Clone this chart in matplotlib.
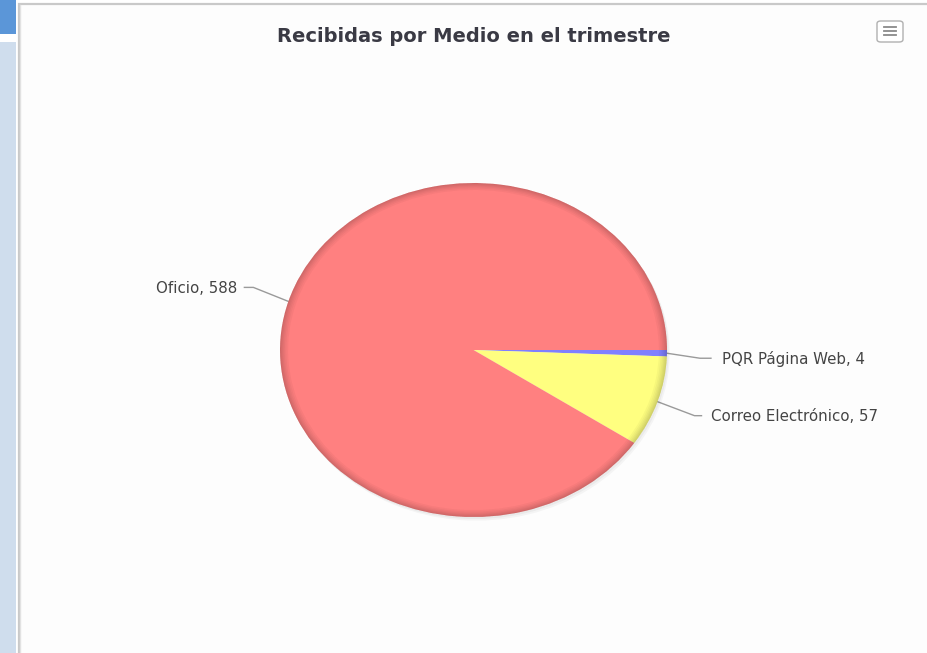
import matplotlib
matplotlib.use("Agg")
import matplotlib.pyplot as plt
from matplotlib.patches import Rectangle, FancyBboxPatch
from matplotlib.lines import Line2D
import numpy as np

# ---- data ----
title = "Recibidas por Medio en el trimestre"
categories = ["PQR Página Web", "Correo Electrónico", "Oficio"]
values = [4, 57, 588]
colors = ["#8080ff", "#ffff80", "#ff8080"]

W, H = 928, 653
fig = plt.figure(figsize=(W / 100, H / 100), dpi=100)
fig.patch.set_facecolor("white")

def fx(x):
    return x / W

def fy(y):
    return 1 - y / H

# left sidebar
fig.add_artist(Rectangle((0, fy(34)), fx(16), 34 / H, transform=fig.transFigure,
                         facecolor="#5b96d8", edgecolor="none", zorder=-5))
fig.add_artist(Rectangle((0, 0), fx(16), fy(42), transform=fig.transFigure,
                         facecolor="#cfdded", edgecolor="none", zorder=-5))
# chart container
fig.add_artist(Rectangle((fx(18.5), -0.01), fx(W + 5 - 18.5), fy(3.5) + 0.01,
                         transform=fig.transFigure, facecolor="#fdfdfd",
                         edgecolor="#c9c9c9", linewidth=1.6, zorder=-5))
fig.add_artist(Line2D([fx(20.5), fx(20.5)], [0, fy(5)], transform=fig.transFigure,
                      color="#e2e2e2", linewidth=1, zorder=-4))

# title
fig.text(fx(474), fy(37), title, ha="center", va="center", fontsize=14,
         fontweight="bold", color="#3a3a44", family="DejaVu Sans")

# menu button
fig.add_artist(FancyBboxPatch((fx(877), fy(42)), fx(26), 21 / H,
                              boxstyle="round,pad=0,rounding_size=0.004",
                              transform=fig.transFigure, facecolor="white",
                              edgecolor="#b0b0b0", linewidth=1))
for yy in (27, 31, 35):
    fig.add_artist(Line2D([fx(884), fx(896)], [fy(yy), fy(yy)], transform=fig.transFigure,
                          color="#8a8a8a", linewidth=1.3))

# pie axes (ellipse in screenshot)
left, right, top, bottom = 280, 667, 183, 517
ax = fig.add_axes([fx(left), fy(bottom), (right - left) / W, (bottom - top) / H])
ax.set_zorder(2)
ax.set_facecolor("none")

# faint outer shadow
for off, a in [((0.014, -0.022), 0.035), ((0.008, -0.012), 0.04)]:
    ax.pie(values, colors=["#000000"] * 3, startangle=0, counterclock=False,
           radius=1.0, center=off, wedgeprops=dict(linewidth=0, alpha=a))
wedges, _ = ax.pie(values, colors=colors, startangle=0, counterclock=False,
                   radius=1.0, wedgeprops=dict(linewidth=0))
# soft rim darkening
for wd in [0.006, 0.012, 0.018, 0.025, 0.033, 0.042]:
    ax.pie(values, colors=["#000000"] * 3, startangle=0, counterclock=False,
           radius=1.0, wedgeprops=dict(width=wd, linewidth=0, alpha=0.03))
ax.set_aspect("auto")
ax.set_xlim(-1, 1)
ax.set_ylim(-1, 1)
ax.axis("off")

# labels with connectors (offsets in screen pixels, y downward)
label_cfg = {
    "Oficio": dict(corner=(-35, -14), end=(-44, -14), text=(-51, -13), ha="right"),
    "PQR Página Web": dict(corner=(33, 5), end=(44, 5), text=(55, 6), ha="left"),
    "Correo Electrónico": dict(corner=(37, 14), end=(44, 14), text=(53, 15), ha="left"),
}
for w, cat, val in zip(wedges, categories, values):
    mid = np.deg2rad((w.theta1 + w.theta2) / 2)
    dx, dy = ax.transData.transform((np.cos(mid), np.sin(mid)))
    ex, ey = dx, H - dy  # screen coords
    cfg = label_cfg[cat]
    xs = [ex, ex + cfg["corner"][0], ex + cfg["end"][0]]
    ys = [ey, ey + cfg["corner"][1], ey + cfg["end"][1]]
    fig.add_artist(Line2D([fx(x) for x in xs], [fy(y) for y in ys],
                          transform=fig.transFigure, color="#9a9a9a", linewidth=1))
    tx, ty = ex + cfg["text"][0], ey + cfg["text"][1]
    fig.text(fx(tx), fy(ty), f"{cat}, {val}", ha=cfg["ha"], va="center",
             fontsize=10.8, color="#444444", family="DejaVu Sans")

fig.savefig("out.png", dpi=100, facecolor=fig.get_facecolor())
